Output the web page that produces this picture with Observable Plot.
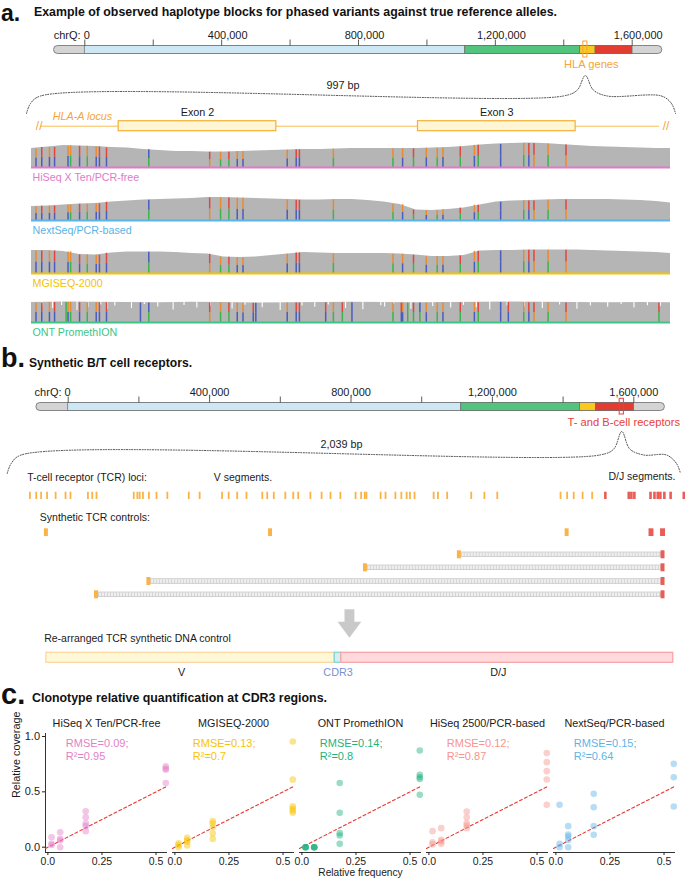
<!DOCTYPE html>
<html><head><meta charset="utf-8">
<script src="https://cdn.jsdelivr.net/npm/d3@7"></script>
<script src="https://cdn.jsdelivr.net/npm/@observablehq/plot@0.6"></script>
<style>
html,body{margin:0;padding:0;background:#fff;overflow:hidden;}
#fig{position:relative;width:685px;height:881px;font-family:"Liberation Sans",Arial,Helvetica,sans-serif;color:#111;}
.layer{position:absolute;left:0;}
.layer svg{background:transparent !important;overflow:visible;}
</style></head><body><div id="fig"></div>
<script>
// ===================== DATA =====================
// chromosome ideogram (chrQ)
const bandStarts = [-90000, 0, 1112000, 1448000, 1493000, 1601000];
const bandEnds   = [0, 1112000, 1448000, 1493000, 1601000, 1688000];
const bandKinds  = ["cap", "blue", "green", "yellow", "red", "cap"];
const chrTicks = [0, 200000, 400000, 600000, 800000, 1000000, 1200000, 1400000, 1600000];
const chrTickLabels = [0, 400000, 800000, 1200000, 1600000];
const hlaPos = 1463000;
const tcrPos = 1566000;

// panel a: HLA-A locus
const locusLength = 997;
const exonNames = ["Exon 2", "Exon 3"];
const exonStarts = [136, 603];
const exonEnds = [382, 849];
const trackNames = ["HiSeq X Ten/PCR-free", "NextSeq/PCR-based", "MGISEQ-2000", "ONT PromethION"];
const depthStep = 25;
const depthHiSeqX = [95,102,110,108,105,100,98,90,85,80,80,78,78,80,83,85,88,90,90,93,95,95,95,95,95,98,100,105,113,118,120,123,120,115,110,105,103,100,98,95,95];
const depthNextSeq = [70,73,78,83,85,93,98,103,105,108,110,115,115,113,110,108,105,103,103,105,105,100,93,80,53,50,55,63,78,93,98,100,103,105,105,105,105,103,100,95,88];
const depthMGI = [115,115,110,95,93,103,108,108,108,105,100,98,83,80,83,90,98,105,103,100,100,100,100,98,93,85,85,90,113,115,115,118,118,118,118,115,113,110,108,105,100];
const depthStepONT = 50;
const depthONT = [100,102,101,100,99,101,100,98,99,100,101,100,99,100,101,102,101,100,99,100,99];
const ontDropPos = [16,33,47,71,88,108,118,130,156,176,197,221,238,258,279,313,333,360,388,422,442,463,490,517,545,551,565,592,626,654,674,694,715,742,769,797,824,851,872,899,920,940,961,981];
const ontDropDepth = [80,70,85,60,75,88,65,82,70,90,78,62,85,72,80,68,86,74,60,82,76,88,70,64,84,78,90,66,80,72,86,74,62,84,78,70,88,66,82,76,90,72,84,80];
const variantPos = [7,16,28,36,57,61,75,87,101,106,117,183,278,295,308,321,330,399,413,418,471,564,579,596,616,633,642,669,691,697,732,768,776,784,806,834];
const variantTop = ["G","T","G","T","G","G","T","G","G","T","T","C","T","G","T","G","G","G","T","T","G","G","G","T","G","G","G","T","G","T","C","G","T","T","G","T"];
const variantBottom = ["C","C","C","C","C","A","C","A","C","C","C","A","G","A","A","C","C","C","C","C","A","A","C","A","C","A","C","A","C","A","C","A","C","G","A","G"];
const ontExtraPos = [54,170,346,350,459,485,500,577,587,606,744,979];
const ontExtraTop = ["A","C","T","C","T","T","C","T","A","C","T","T"];
const ontExtraBottom = ["A","C","C","C","C","A","C","C","A","A","C","A"];

// panel b: TCR loci
const tcrLength = 2039;
const vSegments = [65,84,99,117,143,173,188,241,254,267,380,391,398,408,426,449,482,547,580,648,668,694,722,770,785,805,840,864,879,916,950,977,1007,1053,1070,1081,1086,1129,1144,1174,1192,1208,1218,1232,1290,1303,1331,1404,1444,1483,1675,1695,1715,1742,1771];
const djSegments = [1811,1882,1890,1899,1948,1960,1970,1978,1990,2009,2049];
const controlV = [115, 795, 1695];
const controlDJ = [1951, 1986];
const rearrangedV = [1368, 1083, 426, 267];
const rearrangedDJ = 1986;
const partNames = ["V", "CDR3", "D/J"];
const partStarts = [115, 990, 1010];
const partEnds = [990, 1010, 2017];

// panel c: clonotype quantification
const platforms = ["HiSeq X Ten/PCR-free", "MGISEQ-2000", "ONT PromethION", "HiSeq 2500/PCR-based", "NextSeq/PCR-based"];
const rmse = [0.09, 0.13, 0.14, 0.12, 0.15];
const r2 = [0.95, 0.7, 0.8, 0.87, 0.64];
const clonoFreq = [0.017, 0.057, 0.175, 0.545];
const covHiSeqX = [[0.09,0.03,0.02],[0.135,0.075,0.06,0.0],[0.325,0.27,0.215,0.19,0.145],[0.73,0.71,0.70,0.58]];
const covMGI = [[0.035,0.02,0.0],[0.085,0.065,0.05,0.015],[0.235,0.215,0.18,0.125,0.075],[0.955,0.61,0.37,0.35,0.33,0.31]];
const covONT = [[0.0,0.0,0.0,0.0],[0.0,0.0,0.0,0.0],[0.58,0.31,0.127,0.106,0.03],[0.873,0.654,0.632,0.617,0.473]];
const covHiSeq2500 = [[0.145,0.045,0.025],[0.172,0.066,0.051,0.03],[0.322,0.271,0.217,0.196,0.172],[0.85,0.768,0.687,0.611,0.383]];
const covNextSeq = [[0.383,0.03,0.0],[0.19,0.115,0.097,0.066,0.0],[0.482,0.361,0.19,0.112],[0.753,0.632,0.368]];

// ===================== STYLE / LAYOUT =====================
const W = 685, H = 881;
const FONT = '"Liberation Sans", Arial, Helvetica, sans-serif';
const bandColor = {cap: "#d4d4d4", blue: "#cde7f5", green: "#52c47d", yellow: "#f8c91e", red: "#e33c30"};
const alleleColor = {A: "#3cb44b", C: "#4b5cbf", G: "#ea8a2e", T: "#e2453c"};
const trackColor = ["#e07bc9", "#58b5e6", "#f5c300", "#3ec585"];
const platformColor = {"HiSeq X Ten/PCR-free": "#e47fc7", "MGISEQ-2000": "#f7c400", "ONT PromethION": "#1fb27e", "HiSeq 2500/PCR-based": "#f7948c", "NextSeq/PCR-based": "#5fb4e6"};
const orange = "#f5a53a", lociOrange = "#fbb347", lociRed = "#ea5d56";
const rangeA = [84.3, 631.7], rangeB = [67.7, 633.3];
const fig = document.getElementById("fig");
const baseStyle = {background: "transparent", fontFamily: FONT, overflow: "visible"};

function place(node, top) {
  const d = document.createElement("div");
  d.className = "layer"; d.style.top = top + "px";
  d.appendChild(node); fig.appendChild(d);
}
function title(text, left, baseline, fs, targetW) {
  const lh = 0.8;
  const s = document.createElement("div");
  s.textContent = text;
  s.style.cssText = `position:absolute;left:${left}px;top:${baseline - (lh / 2 + 0.3465) * fs}px;font-weight:bold;font-size:${fs}px;font-family:${FONT};line-height:${lh};white-space:nowrap;transform-origin:0 0;`;
  fig.appendChild(s);
  if (targetW) { const w = s.getBoundingClientRect().width; s.style.transform = `scaleX(${targetW / w})`; }
}
function bracePoints(sc, L, R, P, yEnd, yMid, yPeak) {
  const px = [[L,yEnd],[L+4,yEnd-10],[L+14,yMid],[P-22,yMid],[P-8,yMid-6],[P,yPeak],[P+8,yMid-6],[P+22,yMid],[R-14,yMid],[R-4,yEnd-10],[R,yEnd]];
  return px.map(([x, y]) => ({x: sc.invert(x), y}));
}

// ===================== IDEOGRAM =====================
function ideogram(range, hlPos, hlText, hlColor, L, labelDx, zeroDx) {
  const bands = bandKinds.map((k, i) => ({kind: k, start: bandStarts[i], end: bandEnds[i]}));
  const inner = bands.filter(b => b.kind !== "cap");
  return Plot.plot({
    width: W, height: H, margin: 0, style: baseStyle,
    x: {domain: [0, 1600000], range, axis: null},
    y: {domain: [0, H], range: [0, H], axis: null},
    color: {type: "identity"},
    marks: [
      Plot.rect([bands], {x1: d => d[0].start, x2: d => d[d.length - 1].end, y1: L.barTop, y2: L.barBot, fill: bandColor.cap, stroke: "#6b6b6b", strokeWidth: 0.8, rx: 4, ry: 4}),
      Plot.rect(inner, {x1: "start", x2: "end", y1: L.barTop, y2: L.barBot, fill: d => bandColor[d.kind], stroke: "#6b6b6b", strokeWidth: 0.7}),
      Plot.ruleX(chrTicks, {x: d => d, y1: L.tickTop, y2: L.barTop, stroke: "#333", strokeWidth: 0.8}),
      Plot.text(chrTickLabels.filter(d => d > 0), {x: d => d, y: L.label, text: d => d3.format(",")(d), dx: labelDx, fontSize: 11, fill: "#1a1a1a"}),
      Plot.text([0], {x: d => d, y: L.label, text: () => "chrQ: 0", textAnchor: "end", dx: zeroDx, fontSize: 11, fill: "#1a1a1a"}),
      Plot.rect([hlPos], {x1: d => d - 6000, x2: d => d + 6000, y1: L.hlTop, y2: L.hlBot, fill: "none", stroke: hlColor, strokeWidth: 1}),
      Plot.text([hlText], {x: () => hlPos, y: L.hlText, text: d => d, fill: hlColor, fontSize: 11.2, dx: L.hlDx})
    ]
  });
}

// titles
title("a.", 1, 20.8, 23);
title("Example of observed haplotype blocks for phased variants against true reference alleles.", 34, 16.3, 12.8, 523);
title("b.", 1, 368.3, 27);
title("Synthetic B/T cell receptors.", 29, 368, 12.8, 163);
title("c.", 1, 705, 29);
title("Clonotype relative quantification at CDR3 regions.", 31.7, 702.5, 12.8, 295);

// ---- panel a ideogram
place(ideogram(rangeA, hlaPos, "HLA genes", orange, {label: 35, tickTop: 39.5, barTop: 45.5, barBot: 53.5, hlTop: 41, hlBot: 57, hlText: 64.3, hlDx: 6}, 6, 5), 0);

// ---- panel a locus diagram
(function () {
  const xA = {domain: [0, locusLength], range: [31, 670]};
  const sc = Plot.scale({x: xA});
  const peak = Plot.scale({x: {domain: [0, 1600000], range: rangeA}}).apply(hlaPos);
  const brace = bracePoints(sc, 26, 675, peak, 113, 95.5, 75);
  const exons = exonNames.map((n, i) => ({name: n, start: exonStarts[i], end: exonEnds[i]}));
  place(Plot.plot({
    width: W, height: H, margin: 0, style: baseStyle,
    x: {...xA, axis: null}, y: {domain: [0, H], range: [0, H], axis: null},
    marks: [
      Plot.line(brace, {x: "x", y: "y", curve: "catmull-rom", stroke: "#444", strokeWidth: 1, strokeDasharray: "1,1.6"}),
      Plot.text([locusLength], {x: d => d / 2, y: 85, text: d => `${d} bp`, dx: -8, fontSize: 10.8, fill: "#1a1a1a"}),
      Plot.ruleY([125.7], {x1: 14, x2: 980, y: d => d, stroke: "#f8bb4f", strokeWidth: 1}),
      Plot.text(["//"], {x: () => 12, y: 126, text: d => d, fill: orange, fontSize: 12}),
      Plot.text(["//"], {x: () => 990, y: 126, text: d => d, fill: orange, fontSize: 12}),
      Plot.text(["HLA-A locus"], {x: () => 33, y: 115.7, text: d => d, textAnchor: "start", fontStyle: "italic", fill: orange, fontSize: 10.8}),
      Plot.rect(exons, {x1: "start", x2: "end", y1: 120.7, y2: 130.7, fill: "#fff6d6", stroke: "#f6b03a", strokeWidth: 1.2}),
      Plot.text(exons, {x: d => (d.start + d.end) / 2, y: 112.3, text: "name", fontSize: 10.8, fill: "#1a1a1a"})
    ]
  }), 0);
})();

// ---- panel a coverage tracks
function track(name, depths, step, pos, topA, botA, color, drops) {
  const cov = depths.map((d, i) => ({bp: Math.min(i * step, locusLength), depth: d}));
  const segs = [];
  pos.forEach((p, i) => {
    const dep = depths[Math.round(p / step)];
    segs.push({bp: p, y1: 0, y2: dep * 0.5, allele: botA[i]});
    segs.push({bp: p, y1: dep * 0.5, y2: dep * 0.98, allele: topA[i]});
  });
  const marks = [Plot.areaY(cov, {x: "bp", y: "depth", fill: "#b5b5b5"})];
  if (drops) marks.push(Plot.ruleX(drops.pos, {x: d => d, y1: (d, i) => drops.depth[i], y2: 125, stroke: "#fff", strokeWidth: 1.1}));
  marks.push(
    Plot.ruleX(segs, {x: "bp", y1: "y1", y2: "y2", stroke: d => alleleColor[d.allele], strokeWidth: 1.5}),
    Plot.ruleY([0], {stroke: color, strokeWidth: 2}),
    Plot.text([name], {frameAnchor: "bottom-left", dy: 13, dx: 1, text: d => d, fill: color, fontSize: 10.7, textAnchor: "start"})
  );
  return Plot.plot({
    width: W, height: 45, marginLeft: 31, marginRight: 15, marginTop: 2, marginBottom: 18, style: baseStyle,
    x: {domain: [0, locusLength], axis: null}, y: {domain: [0, 125], axis: null},
    color: {type: "identity"},
    marks
  });
}
const baselines = [167, 220, 272.7, 321.7];
place(track(trackNames[0], depthHiSeqX, depthStep, variantPos, variantTop, variantBottom, trackColor[0]), baselines[0] - 27);
place(track(trackNames[1], depthNextSeq, depthStep, variantPos, variantTop, variantBottom, trackColor[1]), baselines[1] - 27);
place(track(trackNames[2], depthMGI, depthStep, variantPos, variantTop, variantBottom, trackColor[2]), baselines[2] - 27);
place(track(trackNames[3], depthONT, depthStepONT, variantPos.concat(ontExtraPos), variantTop.concat(ontExtraTop), variantBottom.concat(ontExtraBottom), trackColor[3], {pos: ontDropPos, depth: ontDropDepth}), baselines[3] - 27);

// ---- panel b ideogram
place(ideogram(rangeB, tcrPos, "T- and B-cell receptors", "#e8423a", {label: 391.5, tickTop: 396.5, barTop: 402.5, barBot: 410.5, hlTop: 398.3, hlBot: 414, hlText: 421.7, hlDx: 2}, 0, 2.5), 0);

// ---- panel b loci diagram
(function () {
  const xB = {domain: [0, tcrLength], range: [8, 680]};
  const sc = Plot.scale({x: xB});
  const peak = Plot.scale({x: {domain: [0, 1600000], range: rangeB}}).apply(tcrPos);
  const brace = bracePoints(sc, 6.7, 680, peak, 473, 454.5, 431);
  const rowY = [554.3, 567.3, 581, 594.3];
  const rows = rearrangedV.map((s, i) => ({start: s, end: rearrangedDJ, row: i}));
  const parts = partNames.map((n, i) => ({name: n, start: partStarts[i], end: partEnds[i]}));
  const partFill = {"V": "#fff8d6", "CDR3": "#d3f0f0", "D/J": "#ffd9dc"};
  const partStroke = {"V": "#fcd7a0", "CDR3": "#86d3d3", "D/J": "#f8a5a8"};
  const arrowPos = 1036;
  const head = [{x: arrowPos - 36, y1: 621.7, y2: 621.7}, {x: arrowPos, y1: 621.7, y2: 637.7}, {x: arrowPos + 36, y1: 621.7, y2: 621.7}];
  place(Plot.plot({
    width: W, height: H, margin: 0, style: baseStyle,
    x: {...xB, axis: null}, y: {domain: [0, H], range: [0, H], axis: null},
    color: {type: "identity"},
    marks: [
      Plot.line(brace, {x: "x", y: "y", curve: "catmull-rom", stroke: "#444", strokeWidth: 1, strokeDasharray: "1,1.6"}),
      Plot.text([tcrLength], {x: d => d / 2, y: 444.3, text: d => `${d3.format(",")(d)} bp`, dx: -3, fontSize: 10.8, fill: "#1a1a1a"}),
      Plot.text(["T-cell receptor (TCR) loci:"], {frameAnchor: "left", dx: 26.7, y: 476.7, text: d => d, textAnchor: "start", fontSize: 10.5, fill: "#1a1a1a"}),
      Plot.text(["V segments."], {frameAnchor: "left", dx: 213.3, y: 476.7, text: d => d, textAnchor: "start", fontSize: 10.5, fill: "#1a1a1a"}),
      Plot.text(["D/J segments."], {frameAnchor: "left", dx: 675, y: 475.7, text: d => d, textAnchor: "end", fontSize: 10.5, fill: "#1a1a1a"}),
      Plot.ruleX(vSegments, {x: d => d, y1: 491.7, y2: 499, stroke: lociOrange, strokeWidth: 1.8}),
      Plot.ruleX(djSegments, {x: d => d, y1: 491.7, y2: 499, stroke: lociRed, strokeWidth: 2.6}),
      Plot.text(["Synthetic TCR controls:"], {frameAnchor: "left", dx: 39.3, y: 516.7, text: d => d, textAnchor: "start", fontSize: 10.5, fill: "#1a1a1a"}),
      Plot.rect(controlV, {x1: d => d - 6, x2: d => d + 6, y1: 528.3, y2: 536, fill: lociOrange}),
      Plot.rect(controlDJ, {x1: d => d - 7.5, x2: d => d + 7.5, y1: 528.3, y2: 536, fill: lociRed}),
      Plot.rect(rows, {x1: d => d.start + 6, x2: d => d.end - 6, y1: d => rowY[d.row] - 2.3, y2: d => rowY[d.row] + 2.3, fill: "#efefef", stroke: "#c4c4c4", strokeWidth: 0.7}),
      Plot.ruleY(rows, {x1: d => d.start + 6, x2: d => d.end - 6, y: d => rowY[d.row], stroke: "#c9c9c9", strokeWidth: 4.6, strokeDasharray: "0.7,2.3"}),
      Plot.rect(rows, {x1: d => d.start - 6, x2: d => d.start + 6, y1: d => rowY[d.row] - 4, y2: d => rowY[d.row] + 4, fill: lociOrange}),
      Plot.rect(rows, {x1: d => d.end - 6, x2: d => d.end + 6, y1: d => rowY[d.row] - 4, y2: d => rowY[d.row] + 4, fill: lociRed}),
      Plot.rect([arrowPos], {x1: d => d - 15, x2: d => d + 15, y1: 609.3, y2: 622, fill: "#c9c9c9"}),
      Plot.areaY(head, {x: "x", y1: "y1", y2: "y2", fill: "#c9c9c9"}),
      Plot.text(["Re-arranged TCR synthetic DNA control"], {frameAnchor: "left", dx: 43.7, y: 637.7, text: d => d, textAnchor: "start", fontSize: 10.5, fill: "#1a1a1a"}),
      Plot.rect(parts, {x1: "start", x2: "end", y1: 652.3, y2: 662.3, fill: d => partFill[d.name], stroke: d => partStroke[d.name], strokeWidth: 1.3}),
      Plot.text(parts.filter(d => d.name !== "CDR3"), {x: d => (d.start + d.end) / 2, y: 672.3, text: "name", dx: -9, fontSize: 10.8, fill: "#1a1a1a"}),
      Plot.text(parts.filter(d => d.name === "CDR3"), {x: d => (d.start + d.end) / 2, y: 672.3, text: "name", fontSize: 10.8, fill: "#7b8fd4"})
    ]
  }), 0);
})();

// ---- panel c scatter facets
(function () {
  const covs = [covHiSeqX, covMGI, covONT, covHiSeq2500, covNextSeq];
  const points = [];
  platforms.forEach((p, j) => covs[j].forEach((vals, i) => vals.forEach(v => points.push({platform: p, freq: clonoFreq[i], cov: v}))));
  const xDom = [-0.011, 0.553], yDom = [-0.048, 1.027];
  place(Plot.plot({
    width: W, height: 176, marginTop: 28, marginBottom: 29, marginLeft: 43.3, marginRight: 7.7, style: baseStyle,
    fx: {domain: platforms, paddingInner: 0.04, paddingOuter: 0, axis: null, label: null},
    x: {domain: xDom},
    y: {domain: yDom},
    color: {type: "identity"},
    marks: [
      Plot.ruleY([yDom[0]], {stroke: "#333", strokeWidth: 1}),
      Plot.ruleX([platforms[0]], {fx: d => d, x: () => xDom[0], y1: () => yDom[0], y2: () => yDom[1], stroke: "#333", strokeWidth: 1}),
      Plot.axisX({ticks: [0, 0.25, 0.5], tickFormat: d => d === 0.25 ? "0.25" : d.toFixed(1), tickSize: 3, tickPadding: 2, fontSize: 10.5, label: null, color: "#222"}),
      Plot.axisY({ticks: [0, 0.5, 1], tickFormat: d => d.toFixed(1), tickSize: 3, tickPadding: 2.5, fontSize: 11, label: null, color: "#222"}),
      Plot.line(xDom, {x: d => d, y: d => d, stroke: "#e8382f", strokeWidth: 1.1, strokeDasharray: "3,2.5"}),
      Plot.dot(points, {fx: "platform", x: "freq", y: "cov", r: 3.3, fill: d => platformColor[d.platform], fillOpacity: 0.45}),
      Plot.text(platforms, {fx: d => d, x: () => 0.083, y: () => 0.94, text: d => `RMSE=${rmse[platforms.indexOf(d)]};`, fill: d => platformColor[d], textAnchor: "start", fontSize: 11}),
      Plot.text(platforms, {fx: d => d, x: () => 0.083, y: () => 0.82, text: d => `R²=${r2[platforms.indexOf(d)]}`, fill: d => platformColor[d], textAnchor: "start", fontSize: 11}),
      Plot.text(platforms, {fx: d => d, frameAnchor: "top", dy: -14, text: d => d, fontSize: 10.8, fill: "#1a1a1a"}),
      Plot.text([platforms[0]], {fx: d => d, frameAnchor: "left", rotate: -90, dx: -29, dy: 5, text: () => "Relative coverage", fontSize: 10.8, fill: "#1a1a1a"}),
      Plot.text([platforms[2]], {fx: d => d, frameAnchor: "bottom", dy: 23, text: () => "Relative frequency", fontSize: 10.2, fill: "#1a1a1a"})
    ]
  }), 705);
})();
</script></body></html>
